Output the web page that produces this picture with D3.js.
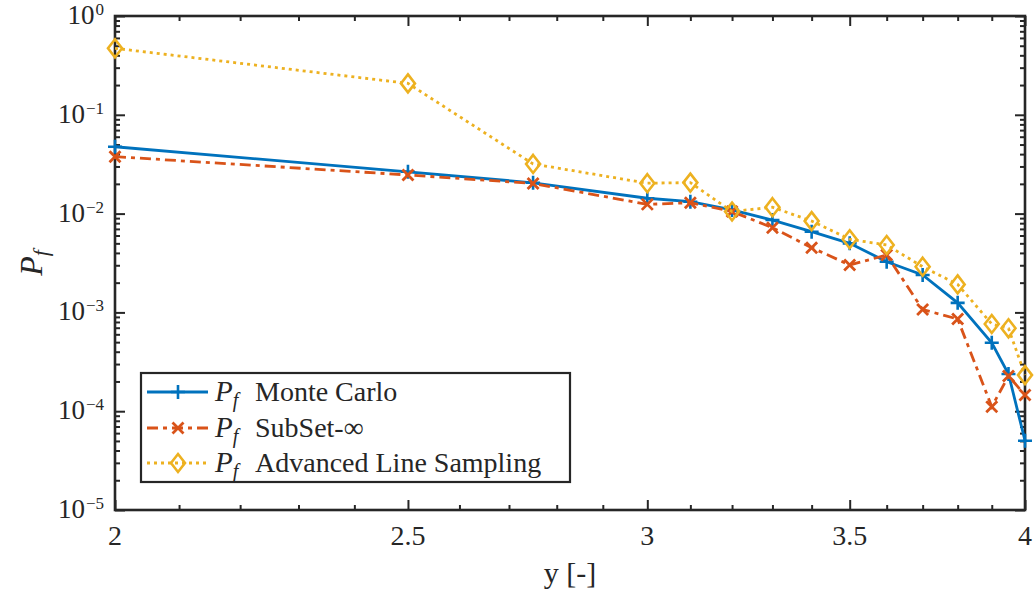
<!DOCTYPE html>
<html>
<head>
<meta charset="utf-8">
<script src="https://cdn.jsdelivr.net/npm/d3@7"></script>
<style>
  html, body { margin: 0; padding: 0; background: #fff; }
  svg { display: block; }
</style>
</head>
<body>
<svg id="chart" width="1036" height="596"></svg>
<script>
// Threshold levels y at which the failure probability is estimated
const yLevels = [2, 2.5, 2.75, 3, 3.1, 3.2, 3.3, 3.4, 3.5, 3.6, 3.7, 3.8, 3.9, 3.95, 4];

// Failure probability estimates per method
const pfMonteCarlo = [0.0475, 0.0265, 0.0205, 0.0143, 0.0132, 0.0109, 0.0086, 0.00656, 0.0050,
                      0.00326, 0.00239, 0.00125, 0.000493, 0.000238, 0.0000503];
const pfSubSet = [0.0377, 0.0246, 0.0202, 0.0124, 0.0129, 0.0105, 0.0072, 0.00452, 0.00302,
                  0.00381, 0.00107, 0.000857, 0.000111, 0.000227, 0.000146];
const pfALS = [0.471, 0.208, 0.0318, 0.0203, 0.0206, 0.0105, 0.0116, 0.0084, 0.0055,
               0.00481, 0.0029, 0.00192, 0.000763, 0.00069, 0.000232];

const seriesNames = ["Monte Carlo", "SubSet-\u221E", "Advanced Line Sampling"];

// Tick values
const xMajorTicks = [2, 2.5, 3, 3.5, 4];
const xTickLabels = ["2", "2.5", "3", "3.5", "4"];
const yMajorExponents = [0, -1, -2, -3, -4, -5];

const FONT = "'Liberation Serif', 'DejaVu Serif', 'Times New Roman', serif";
const svg = d3.select("#chart").attr("font-family", FONT);
const pLeft = 115, pRight = 1025, pTop = 16, pBottom = 510;
const axisColor = "#262626";

const x = d3.scaleLog().domain([2, 4]).range([pLeft, pRight]);
const y = d3.scaleLog().domain([1e-5, 1]).range([pBottom, pTop]);

// minor ticks
const xMinorTicks = d3.range(21, 40).map(v => v / 10).filter(v => !xMajorTicks.some(m => Math.abs(m - v) < 1e-9));
const yMinorTicks = [];
for (let e = -5; e < 0; e++) for (let k = 2; k <= 9; k++) yMinorTicks.push(k * Math.pow(10, e));
const yMajorTicks = yMajorExponents.map(e => Math.pow(10, e));

const gAxes = svg.append("g");

function drawAxis(axisGen, transform) {
  const g = gAxes.append("g").attr("transform", transform).call(axisGen);
  g.select(".domain").remove();
  g.selectAll(".tick line").attr("stroke", axisColor).attr("stroke-width", 2);
  g.selectAll(".tick text").remove();
  return g;
}

// inward ticks on all four sides
const majLen = 10, minLen = 5;
drawAxis(d3.axisBottom(x).tickValues(xMajorTicks).tickSize(-majLen), `translate(0,${pBottom})`);
drawAxis(d3.axisBottom(x).tickValues(xMinorTicks).tickSize(-minLen), `translate(0,${pBottom})`);
drawAxis(d3.axisTop(x).tickValues(xMajorTicks).tickSize(-majLen), `translate(0,${pTop})`);
drawAxis(d3.axisTop(x).tickValues(xMinorTicks).tickSize(-minLen), `translate(0,${pTop})`);
drawAxis(d3.axisLeft(y).tickValues(yMajorTicks).tickSize(-majLen), `translate(${pLeft},0)`);
drawAxis(d3.axisLeft(y).tickValues(yMinorTicks).tickSize(-minLen), `translate(${pLeft},0)`);
drawAxis(d3.axisRight(y).tickValues(yMajorTicks).tickSize(-majLen), `translate(${pRight},0)`);
drawAxis(d3.axisRight(y).tickValues(yMinorTicks).tickSize(-minLen), `translate(${pRight},0)`);

// box
gAxes.append("rect")
  .attr("x", pLeft).attr("y", pTop)
  .attr("width", pRight - pLeft).attr("height", pBottom - pTop)
  .attr("fill", "none").attr("stroke", axisColor).attr("stroke-width", 2.6);

const textColor = "#262626";

// x tick labels
svg.append("g").selectAll("text").data(xMajorTicks).join("text")
  .attr("x", d => x(d)).attr("y", pBottom + 35)
  .attr("text-anchor", "middle")
  .attr("font-size", 28).attr("fill", textColor)
  .text((d, i) => xTickLabels[i]);

// y tick labels: 10^e
const yl = svg.append("g").selectAll("text").data(yMajorExponents).join("text")
  .attr("x", pLeft - 11).attr("y", d => y(Math.pow(10, d)) + 8)
  .attr("text-anchor", "end")
  .attr("font-size", 27).attr("fill", textColor);
yl.append("tspan").text("10");
yl.append("tspan").attr("font-size", 17).attr("dy", -9).attr("dx", 1)
  .text(d => d === 0 ? "0" : "\u2212" + Math.abs(d));

// axis labels
svg.append("text")
  .attr("x", (pLeft + pRight) / 2).attr("y", 583)
  .attr("text-anchor", "middle").attr("font-size", 30).attr("fill", textColor)
  .text("y [-]");

const ylab = svg.append("text")
  .attr("transform", `translate(42,${(pTop + pBottom) / 2}) rotate(-90)`)
  .attr("text-anchor", "middle").attr("font-size", 32).attr("font-style", "italic")
  .attr("fill", textColor);
ylab.append("tspan").text("P");
ylab.append("tspan").attr("font-size", 22).attr("dy", 6).text("f");

// series
const colors = ["#0072BD", "#D95319", "#EDB120"];
const dashes = [null, "11,5,4,5", "3,4"];
const seriesData = [pfMonteCarlo, pfSubSet, pfALS];

const line = d3.line().x(d => x(d[0])).y(d => y(d[1]));

function drawMarker(g, type, cx, cy, color) {
  if (type === 0) {
    g.append("path").attr("d", `M${cx - 7},${cy}H${cx + 7}M${cx},${cy - 7}V${cy + 7}`)
      .attr("stroke", color).attr("stroke-width", 2.6).attr("fill", "none");
  } else if (type === 1) {
    g.append("path").attr("d", `M${cx - 5.5},${cy - 5.5}L${cx + 5.5},${cy + 5.5}M${cx - 5.5},${cy + 5.5}L${cx + 5.5},${cy - 5.5}`)
      .attr("stroke", color).attr("stroke-width", 2.8).attr("fill", "none");
  } else {
    g.append("path").attr("d", `M${cx},${cy - 9}L${cx + 7},${cy}L${cx},${cy + 9}L${cx - 7},${cy}Z`)
      .attr("stroke", color).attr("stroke-width", 2.6).attr("fill", "none");
  }
}

seriesData.forEach((vals, si) => {
  const pts = yLevels.map((lv, i) => [lv, vals[i]]);
  const g = svg.append("g");
  g.append("path").datum(pts)
    .attr("d", line)
    .attr("fill", "none")
    .attr("stroke", colors[si])
    .attr("stroke-width", 2.8)
    .attr("stroke-dasharray", dashes[si]);
  pts.forEach(p => drawMarker(g, si, x(p[0]), y(p[1]), colors[si]));
});

// legend
const lg = svg.append("g");
lg.append("rect").attr("x", 141).attr("y", 373).attr("width", 429).attr("height", 109)
  .attr("fill", "#fff").attr("stroke", axisColor).attr("stroke-width", 2.2);
const rowY = [392, 428, 463];
seriesNames.forEach((name, si) => {
  const ry = rowY[si];
  lg.append("line").attr("x1", 147).attr("x2", 208).attr("y1", ry).attr("y2", ry)
    .attr("stroke", colors[si]).attr("stroke-width", 2.8)
    .attr("stroke-dasharray", dashes[si]);
  drawMarker(lg, si, 178, ry, colors[si]);
  const t = lg.append("text").attr("x", 215).attr("y", ry + 9).attr("font-size", 29).attr("fill", textColor);
  t.append("tspan").attr("font-style", "italic").text("P");
  t.append("tspan").attr("font-style", "italic").attr("font-size", 20).attr("dy", 6).text("f");
  lg.append("text").attr("x", 255).attr("y", ry + 9).attr("font-size", 28).attr("fill", textColor).text(name);
});
</script>
</body>
</html>
